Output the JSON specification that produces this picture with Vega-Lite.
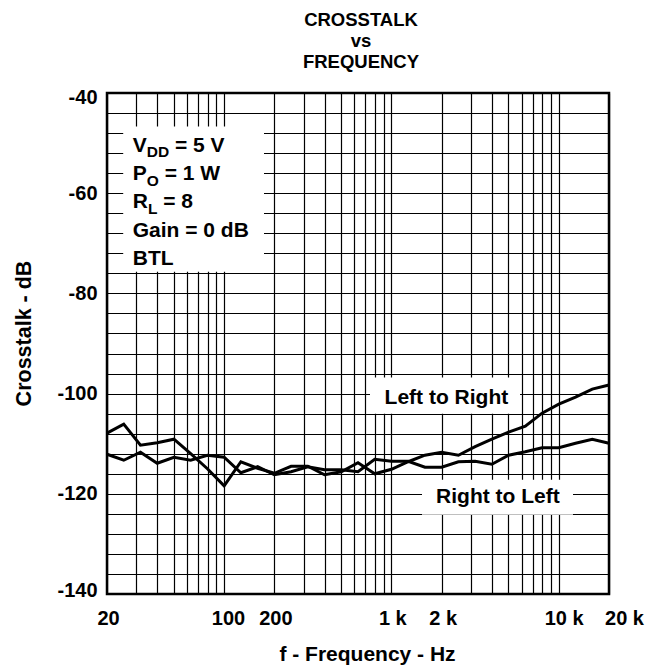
{
  "$schema": "https://vega.github.io/schema/vega-lite/v6.json",
  "width": 502,
  "height": 501,
  "autosize": {"type": "none"},
  "padding": {"left": 107, "top": 93, "right": 49, "bottom": 72},
  "background": "white",
  "title": {
    "text": ["CROSSTALK", "vs", "FREQUENCY"],
    "font": "Liberation Sans",
    "fontSize": 18.5,
    "fontWeight": "bold",
    "color": "black",
    "lineHeight": 21,
    "baseline": "alphabetic",
    "offset": 1,
    "anchor": "middle",
    "frame": "group",
    "dx": 3
  },
  "resolve": {"axis": {"x": "independent", "y": "independent"}},
  "config": {
    "view": {"stroke": "black", "strokeWidth": 2.5},
    "axis": {
      "labelFont": "Liberation Sans",
      "labelFontWeight": "bold",
      "labelFontSize": 20,
      "labelColor": "black",
      "labelOverlap": false,
      "titleFont": "Liberation Sans",
      "titleFontWeight": "bold",
      "titleFontSize": 21,
      "titleColor": "black",
      "ticks": false,
      "tickSize": 0,
      "domain": false,
      "grid": true,
      "gridColor": "black",
      "gridWidth": 1.2,
      "gridOpacity": 1
    }
  },
  "data": {
    "values": [
      {"f": 20, "db": -107.9, "series": "Left to Right"},
      {"f": 25.18, "db": -106.1, "series": "Left to Right"},
      {"f": 31.7, "db": -110.3, "series": "Left to Right"},
      {"f": 39.91, "db": -109.8, "series": "Left to Right"},
      {"f": 50.24, "db": -109.1, "series": "Left to Right"},
      {"f": 63.25, "db": -112.0, "series": "Left to Right"},
      {"f": 79.62, "db": -115.0, "series": "Left to Right"},
      {"f": 100.24, "db": -118.4, "series": "Left to Right"},
      {"f": 126.19, "db": -113.6, "series": "Left to Right"},
      {"f": 158.87, "db": -114.9, "series": "Left to Right"},
      {"f": 200, "db": -115.9, "series": "Left to Right"},
      {"f": 251.79, "db": -114.5, "series": "Left to Right"},
      {"f": 316.98, "db": -114.5, "series": "Left to Right"},
      {"f": 399.05, "db": -116.2, "series": "Left to Right"},
      {"f": 502.38, "db": -115.6, "series": "Left to Right"},
      {"f": 632.46, "db": -113.8, "series": "Left to Right"},
      {"f": 796.21, "db": -116.0, "series": "Left to Right"},
      {"f": 1002.37, "db": -115.1, "series": "Left to Right"},
      {"f": 1261.91, "db": -113.6, "series": "Left to Right"},
      {"f": 1588.66, "db": -112.3, "series": "Left to Right"},
      {"f": 2000, "db": -111.7, "series": "Left to Right"},
      {"f": 2517.85, "db": -112.3, "series": "Left to Right"},
      {"f": 3169.78, "db": -110.6, "series": "Left to Right"},
      {"f": 3990.52, "db": -109.1, "series": "Left to Right"},
      {"f": 5023.77, "db": -107.7, "series": "Left to Right"},
      {"f": 6324.56, "db": -106.5, "series": "Left to Right"},
      {"f": 7962.14, "db": -103.9, "series": "Left to Right"},
      {"f": 10023.74, "db": -102.1, "series": "Left to Right"},
      {"f": 12619.15, "db": -100.7, "series": "Left to Right"},
      {"f": 15886.56, "db": -99.1, "series": "Left to Right"},
      {"f": 20000, "db": -98.3, "series": "Left to Right"},
      {"f": 20, "db": -112.1, "series": "Right to Left"},
      {"f": 25.18, "db": -113.3, "series": "Right to Left"},
      {"f": 31.7, "db": -111.7, "series": "Right to Left"},
      {"f": 39.91, "db": -113.9, "series": "Right to Left"},
      {"f": 50.24, "db": -112.7, "series": "Right to Left"},
      {"f": 63.25, "db": -113.3, "series": "Right to Left"},
      {"f": 79.62, "db": -112.3, "series": "Right to Left"},
      {"f": 100.24, "db": -112.7, "series": "Right to Left"},
      {"f": 126.19, "db": -115.8, "series": "Right to Left"},
      {"f": 158.87, "db": -114.6, "series": "Right to Left"},
      {"f": 200, "db": -116.2, "series": "Right to Left"},
      {"f": 251.79, "db": -115.6, "series": "Right to Left"},
      {"f": 316.98, "db": -114.6, "series": "Right to Left"},
      {"f": 399.05, "db": -115.2, "series": "Right to Left"},
      {"f": 502.38, "db": -115.2, "series": "Right to Left"},
      {"f": 632.46, "db": -115.6, "series": "Right to Left"},
      {"f": 796.21, "db": -113.1, "series": "Right to Left"},
      {"f": 1002.37, "db": -113.5, "series": "Right to Left"},
      {"f": 1261.91, "db": -113.5, "series": "Right to Left"},
      {"f": 1588.66, "db": -114.7, "series": "Right to Left"},
      {"f": 2000, "db": -114.7, "series": "Right to Left"},
      {"f": 2517.85, "db": -113.6, "series": "Right to Left"},
      {"f": 3169.78, "db": -113.5, "series": "Right to Left"},
      {"f": 3990.52, "db": -114.1, "series": "Right to Left"},
      {"f": 5023.77, "db": -112.3, "series": "Right to Left"},
      {"f": 6324.56, "db": -111.6, "series": "Right to Left"},
      {"f": 7962.14, "db": -110.8, "series": "Right to Left"},
      {"f": 10023.74, "db": -110.8, "series": "Right to Left"},
      {"f": 12619.15, "db": -109.9, "series": "Right to Left"},
      {"f": 15886.56, "db": -109.1, "series": "Right to Left"},
      {"f": 20000, "db": -109.9, "series": "Right to Left"}
    ]
  },
  "layer": [
    {
      "mark": {"type": "line", "stroke": "black", "strokeWidth": 3, "strokeJoin": "miter"},
      "encoding": {
        "x": {
          "field": "f",
          "type": "quantitative",
          "scale": {"type": "log", "domain": [20, 20000], "nice": false, "zero": false},
          "axis": {
            "orient": "bottom",
            "values": [20, 30, 40, 50, 60, 70, 80, 90, 100, 200, 300, 400, 500, 600, 700, 800, 900, 1000, 2000, 3000, 4000, 5000, 6000, 7000, 8000, 9000, 10000, 20000],
            "labelExpr": "datum.value == 20 ? '20' : datum.value == 100 ? '100' : datum.value == 200 ? '200' : datum.value == 1000 ? '1 k' : datum.value == 2000 ? '2 k' : datum.value == 10000 ? '10 k' : datum.value == 20000 ? '20 k' : ''",
            "labelPadding": 14,
            "labelFlush": false,
            "labelOverlap": false,
            "labelBound": false,
            "labelOffset": {"condition": [{"test": "datum.value == 20000", "value": 15}, {"test": "datum.value == 10000", "value": 5}, {"test": "datum.value == 100", "value": 4}], "value": 1},
            "title": "f - Frequency - Hz",
            "titleX": 260,
            "titleY": 66,
            "titleBaseline": "alphabetic",
            "titleAlign": "center"
          }
        },
        "y": {
          "field": "db",
          "type": "quantitative",
          "scale": {"domain": [-140, -40], "nice": false, "zero": false},
          "axis": {
            "orient": "left",
            "values": [-140, -136, -132, -128, -124, -120, -116, -112, -108, -104, -100, -96, -92, -88, -84, -80, -76, -72, -68, -64, -60, -56, -52, -48, -44, -40],
            "labelExpr": "datum.value % 20 == 0 ? '-' + abs(datum.value) : ''",
            "labelPadding": 10,
            "labelOverlap": false,
            "labelOffset": {"condition": [{"test": "datum.value == -40", "value": 4.5}, {"test": "datum.value == -140", "value": -3.5}], "value": 0},
            "title": "Crosstalk - dB",
            "titleFontSize": 21.5,
            "titleX": -77,
            "titleY": 240,
            "titleBaseline": "alphabetic",
            "titleAlign": "center",
            "titleAngle": -90
          }
        },
        "detail": {"field": "series"}
      }
    },
    {
      "data": {"values": [{}]},
      "mark": {"type": "rect", "fill": "white", "stroke": null},
      "encoding": {
        "x": {"datum": 25.0, "type": "quantitative", "axis": null},
        "x2": {"datum": 173.5},
        "y": {"datum": -46.7, "type": "quantitative", "axis": null},
        "y2": {"datum": -75.7}
      }
    },
    {
      "data": {"values": [{}]},
      "mark": {"type": "rect", "fill": "white", "stroke": null},
      "encoding": {
        "x": {"datum": 746, "type": "quantitative", "axis": null},
        "x2": {"datum": 5878},
        "y": {"datum": -96.8, "type": "quantitative", "axis": null},
        "y2": {"datum": -104.0}
      }
    },
    {
      "data": {"values": [{}]},
      "mark": {"type": "rect", "fill": "white", "stroke": null},
      "encoding": {
        "x": {"datum": 1526, "type": "quantitative", "axis": null},
        "x2": {"datum": 12190},
        "y": {"datum": -117.2, "type": "quantitative", "axis": null},
        "y2": {"datum": -124.2}
      }
    },
    {
      "data": {"values": [{}]},
      "mark": {"type": "text", "text": "V", "align": "left", "baseline": "alphabetic", "font": "Liberation Sans", "fontSize": 21, "fontWeight": "bold", "color": "black"},
      "encoding": {"x": {"datum": 28.5, "type": "quantitative", "axis": null}, "y": {"datum": -51.72, "type": "quantitative", "axis": null}}
    },
    {
      "data": {"values": [{}]},
      "mark": {"type": "text", "text": "DD", "align": "left", "baseline": "alphabetic", "font": "Liberation Sans", "fontSize": 15.5, "fontWeight": "bold", "color": "black", "dx": 14, "dy": 5.6},
      "encoding": {"x": {"datum": 28.5, "type": "quantitative", "axis": null}, "y": {"datum": -51.72, "type": "quantitative", "axis": null}}
    },
    {
      "data": {"values": [{}]},
      "mark": {"type": "text", "text": "= 5 V", "align": "left", "baseline": "alphabetic", "font": "Liberation Sans", "fontSize": 21, "fontWeight": "bold", "color": "black", "dx": 42.2},
      "encoding": {"x": {"datum": 28.5, "type": "quantitative", "axis": null}, "y": {"datum": -51.72, "type": "quantitative", "axis": null}}
    },
    {
      "data": {"values": [{}]},
      "mark": {"type": "text", "text": "P", "align": "left", "baseline": "alphabetic", "font": "Liberation Sans", "fontSize": 21, "fontWeight": "bold", "color": "black"},
      "encoding": {"x": {"datum": 28.5, "type": "quantitative", "axis": null}, "y": {"datum": -57.37, "type": "quantitative", "axis": null}}
    },
    {
      "data": {"values": [{}]},
      "mark": {"type": "text", "text": "O", "align": "left", "baseline": "alphabetic", "font": "Liberation Sans", "fontSize": 15.5, "fontWeight": "bold", "color": "black", "dx": 14, "dy": 5.6},
      "encoding": {"x": {"datum": 28.5, "type": "quantitative", "axis": null}, "y": {"datum": -57.37, "type": "quantitative", "axis": null}}
    },
    {
      "data": {"values": [{}]},
      "mark": {"type": "text", "text": "= 1 W", "align": "left", "baseline": "alphabetic", "font": "Liberation Sans", "fontSize": 21, "fontWeight": "bold", "color": "black", "dx": 31.9},
      "encoding": {"x": {"datum": 28.5, "type": "quantitative", "axis": null}, "y": {"datum": -57.37, "type": "quantitative", "axis": null}}
    },
    {
      "data": {"values": [{}]},
      "mark": {"type": "text", "text": "R", "align": "left", "baseline": "alphabetic", "font": "Liberation Sans", "fontSize": 21, "fontWeight": "bold", "color": "black"},
      "encoding": {"x": {"datum": 28.5, "type": "quantitative", "axis": null}, "y": {"datum": -63.01, "type": "quantitative", "axis": null}}
    },
    {
      "data": {"values": [{}]},
      "mark": {"type": "text", "text": "L", "align": "left", "baseline": "alphabetic", "font": "Liberation Sans", "fontSize": 15.5, "fontWeight": "bold", "color": "black", "dx": 15.2, "dy": 5.6},
      "encoding": {"x": {"datum": 28.5, "type": "quantitative", "axis": null}, "y": {"datum": -63.01, "type": "quantitative", "axis": null}}
    },
    {
      "data": {"values": [{}]},
      "mark": {"type": "text", "text": "= 8", "align": "left", "baseline": "alphabetic", "font": "Liberation Sans", "fontSize": 21, "fontWeight": "bold", "color": "black", "dx": 30.5},
      "encoding": {"x": {"datum": 28.5, "type": "quantitative", "axis": null}, "y": {"datum": -63.01, "type": "quantitative", "axis": null}}
    },
    {
      "data": {"values": [{}]},
      "mark": {"type": "text", "text": "Gain = 0 dB", "align": "left", "baseline": "alphabetic", "font": "Liberation Sans", "fontSize": 21, "fontWeight": "bold", "color": "black"},
      "encoding": {"x": {"datum": 28.5, "type": "quantitative", "axis": null}, "y": {"datum": -68.66, "type": "quantitative", "axis": null}}
    },
    {
      "data": {"values": [{}]},
      "mark": {"type": "text", "text": "BTL", "align": "left", "baseline": "alphabetic", "font": "Liberation Sans", "fontSize": 21, "fontWeight": "bold", "color": "black"},
      "encoding": {"x": {"datum": 28.5, "type": "quantitative", "axis": null}, "y": {"datum": -74.31, "type": "quantitative", "axis": null}}
    },
    {
      "data": {"values": [{}]},
      "mark": {"type": "text", "text": "Left to Right", "align": "center", "baseline": "alphabetic", "font": "Liberation Sans", "fontSize": 21, "fontWeight": "bold", "color": "black"},
      "encoding": {"x": {"datum": 2134, "type": "quantitative", "axis": null}, "y": {"datum": -102.16, "type": "quantitative", "axis": null}}
    },
    {
      "data": {"values": [{}]},
      "mark": {"type": "text", "text": "Right to Left", "align": "center", "baseline": "alphabetic", "font": "Liberation Sans", "fontSize": 21, "fontWeight": "bold", "color": "black"},
      "encoding": {"x": {"datum": 4336, "type": "quantitative", "axis": null}, "y": {"datum": -121.9, "type": "quantitative", "axis": null}}
    }
  ]
}
